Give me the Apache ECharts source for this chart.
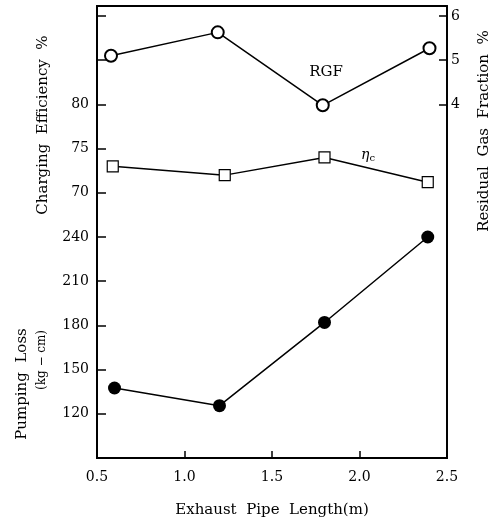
<!DOCTYPE html>
<html><head><meta charset="utf-8">
<script src="https://cdn.jsdelivr.net/npm/echarts@6/dist/echarts.min.js"></script>
<style>html,body{margin:0;padding:0;background:#fff}#c{width:503px;height:524px}</style>
</head><body><div id="c"></div>
<script>
// Data
const rgfX = [0.58, 1.19, 1.79, 2.40];
const rgfVals = [5.10, 5.63, 3.98, 5.27];
const effX = [0.59, 1.23, 1.80, 2.39];
const effVals = [73.0, 72.0, 74.0, 71.2];
const pumpX = [0.60, 1.20, 1.80, 2.39];
const pumpVals = [137.5, 125.5, 182, 240];
// Tick labels
const xTicks = [0.5, 1.0, 1.5, 2.0, 2.5];
const effTicks = [70, 75, 80];
const pumpTicks = [120, 150, 180, 210, 240];
const pumpTickMarks = [120, 150, 180, 210, 240, 270, 300, 330, 360, 390];
const rgfTicks = [4, 5, 6];

const FONT = '"DejaVu Serif", "Liberation Serif", serif';
const pair = (xs, ys) => xs.map((x, i) => [x, ys[i]]);

const chart = echarts.init(document.getElementById('c'), null, {renderer: 'canvas'});
const PMIN = 90, PMAX = 396.8;
chart.setOption({
  animation: false,
  backgroundColor: '#fff',
  grid: {left: 97, right: 56, top: 6, bottom: 66, show: true, borderColor: '#000', borderWidth: 1.8, backgroundColor: 'transparent'},
  xAxis: {
    type: 'value', min: 0.5, max: 2.5, interval: 0.5,
    name: 'Exhaust  Pipe  Length(m)', nameLocation: 'middle', nameGap: 45,
    nameTextStyle: {fontFamily: FONT, fontSize: 15, color: '#000'},
    axisLine: {show: true, onZero: false, lineStyle: {color: '#000', width: 2}},
    axisTick: {show: true, inside: true, length: 7, lineStyle: {color: '#000', width: 1.5}, customValues: xTicks},
    axisLabel: {fontFamily: FONT, fontSize: 14, color: '#000', margin: 12, customValues: xTicks, formatter: v => v.toFixed(1)},
    splitLine: {show: false}
  },
  yAxis: [
    { // pumping loss (visible left axis line & ticks)
      type: 'value', position: 'left', min: PMIN, max: PMAX,
      axisLine: {show: true, onZero: false, lineStyle: {color: '#000', width: 2}},
      axisTick: {show: true, inside: true, length: 9, lineStyle: {color: '#000', width: 1.5}, customValues: pumpTickMarks},
      axisLabel: {fontFamily: FONT, fontSize: 14, color: '#000', margin: 8, customValues: pumpTicks},
      splitLine: {show: false}
    },
    { // charging efficiency, shares left line
      type: 'value', position: 'left', offset: 0, min: 40 + (PMIN - 90) / 6, max: 40 + (PMAX - 90) / 6,
      axisLine: {show: false},
      axisTick: {show: false},
      axisLabel: {fontFamily: FONT, fontSize: 14, color: '#000', margin: 8, customValues: effTicks},
      splitLine: {show: false}
    },
    { // residual gas fraction, right
      type: 'value', position: 'right', min: 4 + (PMIN - 330) / 30, max: 4 + (PMAX - 330) / 30,
      axisLine: {show: true, onZero: false, lineStyle: {color: '#000', width: 1.8}},
      axisTick: {show: true, inside: true, length: 8, lineStyle: {color: '#000', width: 1.5}, customValues: rgfTicks},
      axisLabel: {fontFamily: FONT, fontSize: 14, color: '#000', margin: 4, customValues: rgfTicks},
      splitLine: {show: false}
    }
  ],
  series: [
    {type: 'line', name: 'RGF', yAxisIndex: 2, data: pair(rgfX, rgfVals),
     symbol: 'circle', symbolSize: 12, showAllSymbol: true,
     itemStyle: {color: '#fff', borderColor: '#000', borderWidth: 2},
     lineStyle: {color: '#000', width: 1.5}},
    {type: 'line', name: 'ηc', yAxisIndex: 1, data: pair(effX, effVals),
     symbol: 'rect', symbolSize: 11,
     itemStyle: {color: '#fff', borderColor: '#000', borderWidth: 1.2},
     lineStyle: {color: '#000', width: 1.5}},
    {type: 'line', name: 'Pumping Loss', yAxisIndex: 0, data: pair(pumpX, pumpVals),
     symbol: 'circle', symbolSize: 13,
     itemStyle: {color: '#000', borderColor: '#000', borderWidth: 0},
     lineStyle: {color: '#000', width: 1.5}}
  ],
  graphic: [
    {type: 'text', x: 43, y: 125, rotation: Math.PI / 2,
     style: {text: 'Charging  Efficiency  %', font: '15px ' + FONT, fill: '#000', textAlign: 'center', textVerticalAlign: 'middle'}},
    {type: 'text', x: 22, y: 384, rotation: Math.PI / 2,
     style: {text: 'Pumping  Loss', font: '15px ' + FONT, fill: '#000', textAlign: 'center', textVerticalAlign: 'middle'}},
    {type: 'text', x: 42, y: 360, rotation: Math.PI / 2,
     style: {text: '(kg − cm)', font: '12px ' + FONT, fill: '#000', textAlign: 'center', textVerticalAlign: 'middle'}},
    {type: 'text', x: 484, y: 131, rotation: Math.PI / 2,
     style: {text: 'Residual  Gas  Fraction  %', font: '15px ' + FONT, fill: '#000', textAlign: 'center', textVerticalAlign: 'middle'}},
    {type: 'text', x: 326, y: 72,
     style: {text: 'RGF', font: '15px ' + FONT, fill: '#000', textAlign: 'center', textVerticalAlign: 'middle'}},
    {type: 'text', x: 368, y: 155,
     style: {text: '{a|η}{b|c}', fill: '#000', textAlign: 'center', textVerticalAlign: 'middle',
       rich: {a: {fontFamily: FONT, fontStyle: 'italic', fontSize: 14, fill: '#000'}, b: {fontFamily: FONT, fontSize: 10, fill: '#000', padding: [6, 0, 0, 0]}}}}
  ]
});
</script></body></html>
